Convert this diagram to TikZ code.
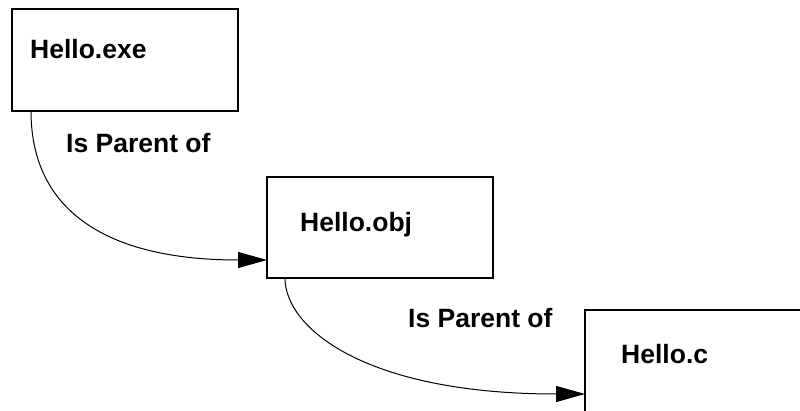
\documentclass[tikz,border=0pt]{standalone}
\usepackage{fontspec}
\setmainfont{Liberation Sans}
\usetikzlibrary{arrows.meta,calc}
\begin{document}
\begin{tikzpicture}[x=1pt,y=-1pt,
  box/.style={draw=black,line width=2pt,fill=white,rectangle,inner sep=0pt,outer sep=0pt,anchor=north west},
  lbl/.style={inner sep=0pt,anchor=base west,font=\fontsize{26.5}{30}\selectfont\bfseries},
  link/.style={draw=black,line width=1pt,-{Triangle[length=29pt,width=16pt]}}]
\useasboundingbox (0,0) rectangle (800,411);
\clip (0,0) rectangle (800,411);
\fill[white] (0,0) rectangle (800,411);
\node[box,minimum width=226pt,minimum height=102pt] (exe) at (12,9) {};
\node[box,minimum width=226pt,minimum height=101pt] (obj) at (267,177) {};
\node[box,minimum width=240pt,minimum height=130pt] (cfile) at (585,310) {};
\node[lbl] (exet) at (30,59) {Hello.exe};
\node[lbl] (objt) at (300,232) {Hello.obj};
\node[lbl] (ct) at (621,363) {Hello.c};
\node[lbl] (p1) at (66,153) {Is Parent of};
\node[lbl] (p2) at (408,327) {Is Parent of};
\coordinate (s1) at ($(exe.south west)+(19,0)$);
\coordinate (e1) at ($(obj.south west)+(0,-18)$);
\coordinate (s2) at ($(obj.south west)+(18,0)$);
\coordinate (e2) at (585,394);
\draw[link] (s1) .. controls ($(s1)+(0,100)$) and ($(e1)+(-160,0)$) .. (e1);
\draw[link] (s2) .. controls ($(s2)+(0,50)$) and ($(e2)+(-220,0)$) .. (e2);
\end{tikzpicture}
\end{document}
